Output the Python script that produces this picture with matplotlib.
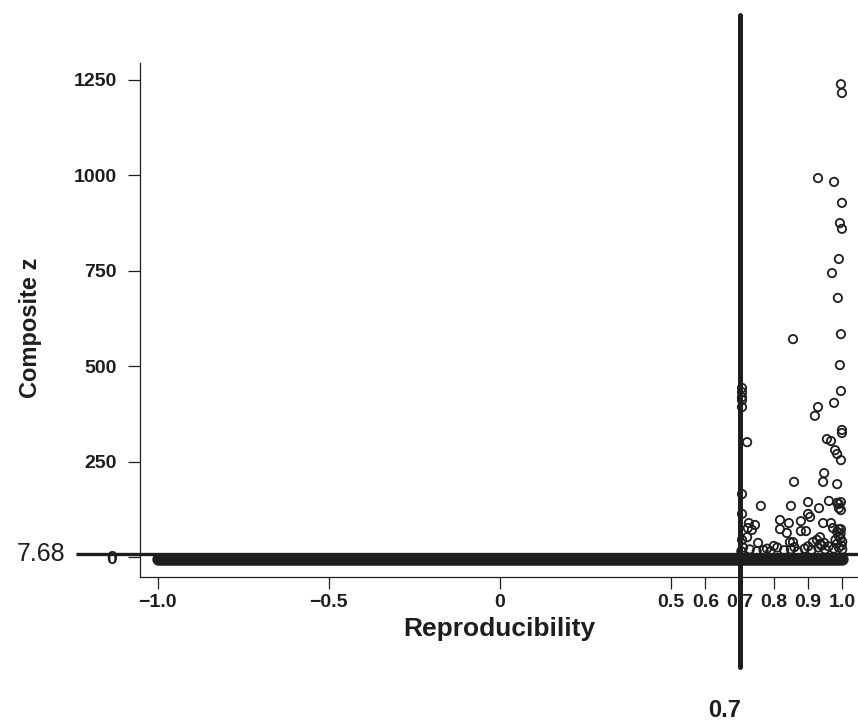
import matplotlib.pyplot as plt

plt.rcParams['font.family'] = ['Liberation Sans', 'DejaVu Sans']

# thresholds
x_thr = 0.7
y_thr = 7.68

# dense band of points sitting at composite z ~ 0 over the full range
band_x = [-1.0, 1.0]
band_y = [-5.0, -5.0]

# individual points above the band
rep = [0.996, 0.999, 0.929, 0.976, 0.999, 0.993, 0.999, 0.990, 0.970, 0.987,
       0.996, 0.856, 0.993, 0.996, 0.976, 0.929, 0.920, 0.999, 0.999, 0.955,
       0.967, 0.979, 0.985, 0.996, 0.707, 0.707, 0.707, 0.707, 0.707, 0.722,
       0.859, 0.947, 0.944, 0.985, 0.707, 0.762, 0.850, 0.900, 0.932, 0.961,
       0.985, 0.990, 0.996, 0.990, 0.996, 0.707, 0.727, 0.745, 0.736, 0.724,
       0.818, 0.818, 0.844, 0.838, 0.900, 0.906, 0.879, 0.879, 0.894, 0.944,
       0.967, 0.973, 0.985, 0.990, 0.996, 0.722, 0.707, 0.754, 0.800, 0.847,
       0.856, 0.914, 0.926, 0.935, 0.947, 0.935,
       0.990, 0.995, 1.000, 0.985, 0.998, 0.990, 1.000, 0.975, 0.960, 0.950,
       0.930, 0.910, 0.890, 0.870, 0.850, 0.830, 0.810, 0.790, 0.770, 0.750,
       0.730, 0.710, 0.705, 0.995, 0.980, 0.940, 0.900, 0.860, 0.780]
comp_z = [1239, 1216, 993, 983, 928, 875, 860, 781, 744, 679,
          584, 571, 503, 435, 404, 393, 370, 333, 325, 309,
          304, 280, 270, 254, 443, 432, 419, 411, 393, 301,
          197, 220, 197, 191, 165, 134, 134, 144, 128, 147,
          142, 139, 144, 128, 123, 113, 89, 84, 71, 76,
          97, 73, 89, 63, 113, 105, 94, 68, 68, 89,
          89, 76, 66, 73, 73, 52, 45, 37, 29, 39,
          39, 39, 45, 52, 37, 34,
          55, 48, 40, 35, 30, 25, 20, 22, 28, 20,
          25, 18, 22, 15, 20, 18, 25, 15, 18, 15,
          20, 25, 15, 62, 45, 30, 28, 26, 22]

xticks = [-1.0, -0.5, 0, 0.5, 0.6, 0.7, 0.8, 0.9, 1.0]
xtick_labels = ['\u22121.0', '\u22120.5', '0', '0.5', '0.6', '0.7', '0.8', '0.9', '1.0']
yticks = [0, 250, 500, 750, 1000, 1250]

ink = '#1e1e1e'

fig = plt.figure(figsize=(8.58, 7.21), dpi=100)
ax = fig.add_axes([0.1632, 0.1997, 0.8368, 0.7129])

ax.plot(band_x, band_y, color=ink, linewidth=9, solid_capstyle='round', zorder=3)
ax.scatter(rep, comp_z, s=36, facecolors='none', edgecolors=ink, linewidths=1.3, zorder=4)

ax.set_xlim(-1.0517, 1.0459)
ax.set_ylim(-52.4, 1294.5)

# threshold lines running outside the plot area
ax.plot([x_thr, x_thr], [-288, 1420], color=ink, linewidth=3.6,
        solid_capstyle='round', clip_on=False, zorder=6)
ax.plot([-1.239, 1.0459], [y_thr, y_thr], color=ink, linewidth=2.4,
        solid_capstyle='butt', clip_on=False, zorder=6)
ax.text(-1.271, y_thr, '7.68', ha='right', va='center', fontsize=18,
        color=ink, clip_on=False)
ax.text(0.655, -401, '0.7', ha='center', va='center', fontsize=17,
        fontweight='bold', color=ink, clip_on=False)

ax.set_xticks(xticks)
ax.set_xticklabels(xtick_labels)
ax.set_yticks(yticks)
for lab in ax.get_xticklabels() + ax.get_yticklabels():
    lab.set_fontweight('bold')
    lab.set_fontsize(14)
    lab.set_color(ink)
ax.tick_params(axis='x', length=8.5, width=0.9, pad=4, color=ink)
ax.tick_params(axis='y', length=8.5, width=0.9, pad=8, color=ink)

for side in ['top', 'right']:
    ax.spines[side].set_visible(False)
for side in ['left', 'bottom']:
    ax.spines[side].set_linewidth(0.9)
    ax.spines[side].set_color(ink)

ax.set_xlabel('Reproducibility', fontsize=19, fontweight='bold', color=ink, labelpad=4)
ax.set_ylabel('Composite z', fontsize=17, fontweight='bold', color=ink)
ax.yaxis.set_label_coords(-0.137, 0.485)

fig.savefig('out.png', dpi=100)
